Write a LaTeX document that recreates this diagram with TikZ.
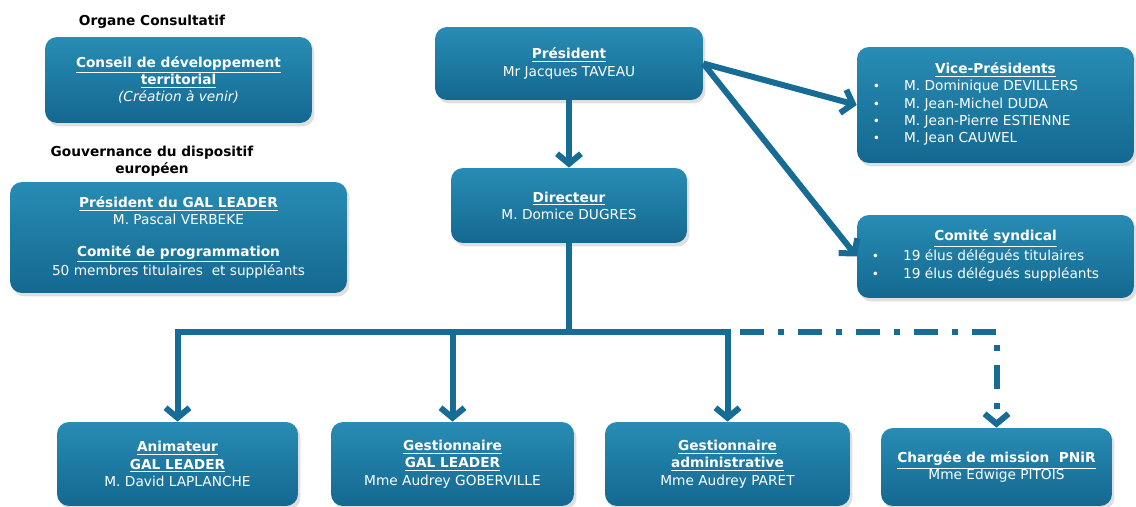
\documentclass[tikz,border=0pt]{standalone}
\usepackage{fontspec}
\setmainfont{DejaVu Sans}
\usepackage{tikz}
\usetikzlibrary{arrows.meta,positioning,shadows}
\definecolor{BoxTop}{RGB}{40,140,180}
\definecolor{BoxMid}{RGB}{27,119,159}
\definecolor{BoxBottom}{RGB}{20,104,144}
\definecolor{LinkBlue}{RGB}{22,108,148}
\newcommand{\boxhead}[1]{\textbf{\underline{#1}}}
\newcommand{\pt}{{\scriptsize\textbullet}}
\tikzset{
    orgbox/.style={rounded corners=0.24cm, top color=BoxTop, middle color=BoxMid, bottom color=BoxBottom, text=white, align=center, inner sep=0pt, font=\fontsize{7.8}{9.8}\selectfont, drop shadow={opacity=0.25, shadow xshift=0.5mm, shadow yshift=-0.7mm}},
    grouptitle/.style={align=center, font=\fontsize{7.8}{9.8}\selectfont\bfseries},
    link/.style={draw=LinkBlue, line width=0.12cm},
    linkarr/.style={link, -{Straight Barb[length=2mm,width=4.8mm]}},
    dotarr/.style={linkarr, dash pattern=on 0.12cm off 0.28cm on 0.48cm off 0.28cm},
}

\begin{document}
\begin{tikzpicture}[x=0.02cm, y=-0.02cm]
\useasboundingbox (0,0) rectangle (1136,507);
% left column
\node[grouptitle] (orgtitle) at (152,22) {Organe Consultatif};
\node[orgbox, minimum width=5.34cm, minimum height=1.72cm] (conseil) at (178.5,80) {\boxhead{Conseil de développement}\\\boxhead{territorial}\\\textit{(Création à venir)}};
\node[grouptitle] (gouvtitle) at (152,161) {Gouvernance du dispositif\\européen};
\node[orgbox, minimum width=6.74cm, minimum height=2.22cm] (galpres) at (178.5,237.5) {\boxhead{Président du GAL LEADER}\\M. Pascal VERBEKE\\[8pt]\boxhead{Comité de programmation}\\50 membres titulaires~ et suppléants};
% centre
\node[orgbox, minimum width=5.36cm, minimum height=1.46cm] (president) at (569,63.5) {\boxhead{Président}\\Mr Jacques TAVEAU};
\node[orgbox, minimum width=4.72cm, minimum height=1.5cm] (directeur) at (569,205.5) {\boxhead{Directeur}\\M. Domice DUGRES};
% right column
\node[orgbox, minimum width=5.54cm, minimum height=2.32cm] (vicepres) at (995.5,105) {\boxhead{Vice-Présidents}\\\begin{tabular}{@{}l@{\hspace{4.8mm}}l@{}}
\pt & M. Dominique DEVILLERS\\
\pt & M. Jean-Michel DUDA\\
\pt & M. Jean-Pierre ESTIENNE\\
\pt & M. Jean CAUWEL
\end{tabular}\hspace*{8mm}};
\node[orgbox, minimum width=5.54cm, minimum height=1.66cm] (comite) at (995.5,256.5) {\boxhead{Comité syndical}\\\begin{tabular}{@{}l@{\hspace{4.8mm}}l@{}}
\pt & 19 élus délégués titulaires\\
\pt & 19 élus délégués suppléants
\end{tabular}\hspace*{4mm}};
% bottom row
\node[orgbox, minimum width=4.82cm, minimum height=1.68cm] (animateur) at (177.5,464) {\boxhead{Animateur}\\\boxhead{GAL LEADER}\\M. David LAPLANCHE};
\node[orgbox, minimum width=4.86cm, minimum height=1.68cm] (gestgal) at (452.5,464) {\boxhead{Gestionnaire}\\\boxhead{GAL LEADER}\\Mme Audrey GOBERVILLE};
\node[orgbox, minimum width=4.9cm, minimum height=1.68cm] (gestadm) at (727.5,464) {\boxhead{Gestionnaire}\\\boxhead{administrative}\\Mme Audrey PARET};
\node[orgbox, minimum width=4.62cm, minimum height=1.56cm] (chargee) at (996.5,467) {\boxhead{Chargée de mission~ PNiR}\\Mme Edwige PITOIS};

\coordinate (busmid) at (569,332);
\coordinate (busend) at (727,332);

\draw[linkarr] (president) -- (directeur);
\draw[linkarr] (president.east) -- (vicepres.west);
\draw[linkarr] (president.east) -- (comite.west);
\draw[link] (directeur.south) -- (busmid);
\draw[linkarr] (busmid) -| (animateur.north);
\draw[linkarr] (busmid) -| (gestgal.north);
\draw[linkarr] (busmid) -| (gestadm.north);
\draw[dotarr, dash phase=0.14cm] (busend) -| (chargee.north);
\end{tikzpicture}
\end{document}
